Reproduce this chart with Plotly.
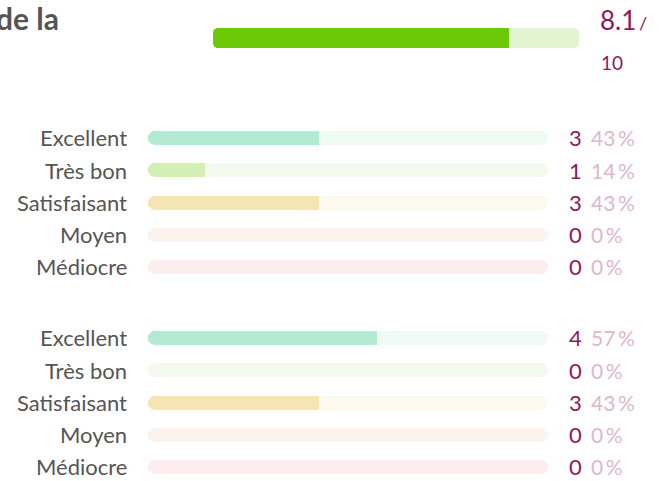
import plotly.graph_objects as go

W, H = 666, 481

# ---- data ----
title_tail = "de la"
score = 8.1
score_max = 10
categories = ["Excellent", "Très bon", "Satisfaisant", "Moyen", "Médiocre"]
group1_counts = [3, 1, 3, 0, 0]
group2_counts = [4, 0, 3, 0, 0]

fill_colors = ["#b3ebd2", "#d4efb5", "#f6e5b4", "#f7d8c8", "#f6cdd3"]
bg_colors = ["#effaf4", "#f4faee", "#fcf9ee", "#fcf3ee", "#fcedef"]
score_fill = "#6cc907"
score_bg = "#e1f5d0"
count_color = "#8a1a5a"
pct_color = "#dcb8cd"
label_color = "#555555"
FONT = "Lato"


def px_x(p):
    return p / W


def px_y(p):
    return 1 - p / H


fig = go.Figure()

# ---- main score bar ----
fig.add_trace(go.Bar(x=[score_max], y=["score"], base=[0], orientation="h",
                     marker=dict(color=score_bg, cornerradius=5, line_width=0),
                     width=1, xaxis="x", yaxis="y", hoverinfo="skip", showlegend=False))
fig.add_trace(go.Bar(x=[score], y=["score"], base=[0], orientation="h",
                     marker=dict(color=score_fill, cornerradius=5, line_width=0),
                     width=1, xaxis="x", yaxis="y", hoverinfo="skip", showlegend=False))
fig.add_trace(go.Bar(x=[score / 2], y=["score"], base=[score / 2], orientation="h",
                     marker=dict(color=score_fill, line_width=0),
                     width=1, xaxis="x", yaxis="y", hoverinfo="skip", showlegend=False))

# ---- rating groups ----
pitch = 32.25
bar_w = 14 / pitch
groups = [(group1_counts, "x2", "y2", 138), (group2_counts, "x3", "y3", 338)]

annotations = []
layout_axes = {}
for gi, (counts, xa, ya, top_center) in enumerate(groups):
    total = sum(counts)
    fig.add_trace(go.Bar(x=[total] * len(categories), y=categories, base=[0] * len(categories),
                         orientation="h", width=bar_w,
                         marker=dict(color=bg_colors, cornerradius=7, line_width=0),
                         xaxis=xa, yaxis=ya, hoverinfo="skip", showlegend=False))
    fig.add_trace(go.Bar(x=counts, y=categories, base=[0] * len(categories),
                         orientation="h", width=bar_w,
                         marker=dict(color=fill_colors, cornerradius=7, line_width=0),
                         xaxis=xa, yaxis=ya, hoverinfo="skip", showlegend=False))
    fig.add_trace(go.Bar(x=[c / 2 for c in counts], y=categories, base=[c / 2 for c in counts],
                         orientation="h", width=bar_w,
                         marker=dict(color=fill_colors, line_width=0),
                         xaxis=xa, yaxis=ya, hoverinfo="skip", showlegend=False))

    # axis geometry
    top_px = top_center - pitch / 2
    bottom_px = min(H, top_center + pitch * (len(categories) - 0.5))
    bottom_val = (bottom_px - top_center) / pitch
    n = xa[1:]
    layout_axes[f"xaxis{n}"] = dict(domain=[px_x(148), px_x(548)], range=[0, total],
                                    visible=False, fixedrange=True, anchor=ya)
    layout_axes[f"yaxis{n}"] = dict(domain=[px_y(bottom_px), px_y(top_px)],
                                    range=[bottom_val, -0.5], type="category",
                                    categoryorder="array", categoryarray=categories,
                                    visible=False, fixedrange=True, anchor=xa)

    for cat, c in zip(categories, counts):
        pct = round(100 * c / total)
        annotations.append(dict(text=cat, x=px_x(129), xref="paper", y=cat, yref=ya,
                                xanchor="right", yanchor="middle", showarrow=False,
                                font=dict(family=FONT, size=22, color=label_color)))
        annotations.append(dict(text=str(c), x=px_x(567), xref="paper", y=cat, yref=ya,
                                xanchor="left", yanchor="middle", showarrow=False,
                                font=dict(family=FONT, size=22, color=count_color)))
        annotations.append(dict(text=f"{pct}\u2009%", x=px_x(589), xref="paper", y=cat, yref=ya,
                                xanchor="left", yanchor="middle", showarrow=False,
                                font=dict(family=FONT, size=21, color=pct_color)))

# ---- header texts ----
annotations.append(dict(text=f"<b>{title_tail}</b>", x=px_x(61), xref="paper", y=px_y(18), yref="paper",
                        xanchor="right", yanchor="middle", showarrow=False,
                        font=dict(family=FONT, size=30, color=label_color)))
annotations.append(dict(text=f"{score}", x=px_x(598), xref="paper", y=px_y(20), yref="paper",
                        xanchor="left", yanchor="middle", showarrow=False,
                        font=dict(family=FONT, size=26, color=count_color)))
annotations.append(dict(text="/", x=px_x(637), xref="paper", y=px_y(23), yref="paper",
                        xanchor="left", yanchor="middle", showarrow=False,
                        font=dict(family=FONT, size=18, color=count_color)))
annotations.append(dict(text=str(score_max), x=px_x(599), xref="paper", y=px_y(62), yref="paper",
                        xanchor="left", yanchor="middle", showarrow=False,
                        font=dict(family=FONT, size=19, color=count_color)))

fig.update_layout(
    width=W, height=H, autosize=False,
    margin=dict(l=0, r=0, t=0, b=0, pad=0),
    paper_bgcolor="white", plot_bgcolor="rgba(0,0,0,0)",
    barmode="overlay", bargap=0,
    xaxis=dict(domain=[px_x(213), px_x(579)], range=[0, score_max], visible=False,
               fixedrange=True, anchor="y"),
    yaxis=dict(domain=[px_y(48), px_y(28)], range=[-0.5, 0.5], type="category",
               visible=False, fixedrange=True, anchor="x"),
    annotations=annotations,
    showlegend=False,
    **layout_axes,
)

fig.write_html("out.html", config={"displayModeBar": False},
               post_script="document.body.style.margin='0px';document.body.style.overflow='hidden';")
